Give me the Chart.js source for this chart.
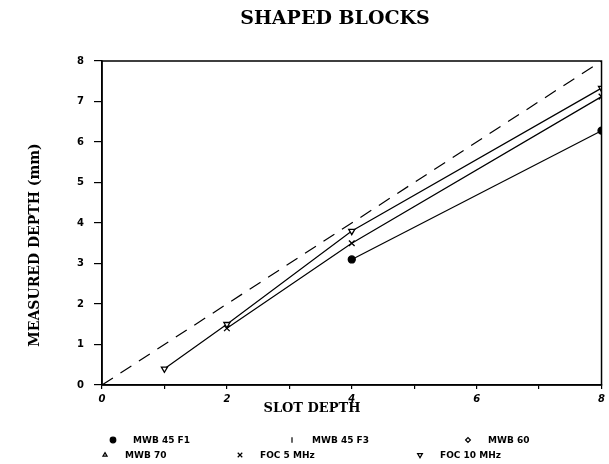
<!DOCTYPE html>
<html>
<head>
<meta charset="utf-8">
<script src="https://cdn.jsdelivr.net/npm/chart.js@4/dist/chart.umd.min.js"></script>
<style>
  body { margin: 0; background: #fff; }
  #wrap { width: 609px; height: 464px; position: relative; }
</style>
</head>
<body>
<div id="wrap"><canvas id="myChart" width="609" height="464"></canvas></div>
<script>
// values
var chartTitle = 'SHAPED BLOCKS';
var xTitle = 'SLOT DEPTH';
var yTitle = 'MEASURED DEPTH (mm)';
var seriesNames = ['MWB 45 F1', 'MWB 45 F3', 'MWB 60', 'MWB 70', 'FOC 5 MHz', 'FOC 10 MHz'];

var mwb45f1X = [4, 8];
var mwb45f1Y = [3.1, 6.28];
var foc5X = [2, 4, 8];
var foc5Y = [1.4, 3.5, 7.12];
var foc10X = [1, 2, 4, 8];
var foc10Y = [0.4, 1.5, 3.8, 7.33];
// dashed reference line (measured = slot)
var idealX = [0, 8];
var idealY = [0, 8];

function pts(xs, ys) {
  var out = [];
  for (var i = 0; i < xs.length; i++) out.push({x: xs[i], y: ys[i]});
  return out;
}

const data = {
  datasets: [
    { label: seriesNames[0], data: pts(mwb45f1X, mwb45f1Y), pointStyle: 'circle', pointRadius: 3.5, backgroundColor: '#000' },
    { label: seriesNames[1], data: [], pointStyle: 'line', rotation: 90, pointRadius: 3.5, backgroundColor: '#000' },
    { label: seriesNames[2], data: [], pointStyle: 'rectRot', pointRadius: 3, backgroundColor: '#fff' },
    { label: seriesNames[3], data: [], pointStyle: 'triangle', pointRadius: 3, backgroundColor: '#fff' },
    { label: seriesNames[4], data: pts(foc5X, foc5Y), pointStyle: 'crossRot', pointRadius: 4, backgroundColor: '#000' },
    { label: seriesNames[5], data: pts(foc10X, foc10Y), pointStyle: 'triangle', rotation: 180, pointRadius: 3.5, backgroundColor: '#fff' },
    { label: '', data: pts(idealX, idealY), borderDash: [13, 9], pointRadius: 0, backgroundColor: '#000' }
  ]
};
data.datasets.forEach(function(d) {
  d.showLine = true;
  d.borderColor = '#000';
  d.borderWidth = 1.2;
  d.pointBorderColor = '#000';
  d.pointBorderWidth = 1.3;
  d.pointBackgroundColor = d.backgroundColor;
  d.pointRotation = d.rotation || 0;
  d.tension = 0;
});

// legend item placement (two rows of three, as in the scan)
var legendMarkX = [113, 292, 468, 105, 240, 420];
var legendRowY = [440, 440, 440, 455, 455, 455];

const extras = {
  id: 'extras',
  afterDraw(chart) {
    const ctx = chart.ctx;
    const a = chart.chartArea;
    ctx.save();
    // frame
    ctx.strokeStyle = '#000';
    ctx.lineWidth = 1.5;
    ctx.strokeRect(a.left, a.top, a.right - a.left, a.bottom - a.top);
    ctx.fillStyle = '#000';
    // title
    ctx.font = 'bold 19px "DejaVu Serif"';
    ctx.textAlign = 'center';
    ctx.textBaseline = 'middle';
    ctx.fillText(chartTitle, 335, 19);
    // x title
    ctx.font = 'bold 13px "DejaVu Serif"';
    ctx.fillText(xTitle, 312, 409);
    // y title
    ctx.save();
    ctx.translate(35, 245);
    ctx.rotate(-Math.PI / 2);
    ctx.font = 'bold 14px "DejaVu Serif"';
    ctx.fillText(yTitle, 0, 0);
    ctx.restore();
    // legend
    ctx.font = 'bold 9px "DejaVu Sans"';
    ctx.textAlign = 'left';
    for (var i = 0; i < seriesNames.length; i++) {
      var ds = chart.data.datasets[i];
      var mx = legendMarkX[i], my = legendRowY[i];
      ctx.fillStyle = ds.pointBackgroundColor;
      ctx.strokeStyle = '#000';
      ctx.lineWidth = 1.2;
      Chart.helpers.drawPoint(ctx, {
        pointStyle: ds.pointStyle,
        rotation: ds.pointRotation,
        radius: ds.pointRadius * 0.8,
        borderWidth: 1.2
      }, mx, my);
      ctx.fillStyle = '#000';
      ctx.fillText(seriesNames[i], mx + 20, my + 1);
    }
    ctx.restore();
  }
};

Chart.defaults.font.family = '"DejaVu Sans"';
Chart.defaults.color = '#000';

const config = {
  type: 'scatter',
  data: data,
  plugins: [extras],
  options: {
    animation: false,
    responsive: false,
    layout: { padding: { top: 61, right: 4, left: 0, bottom: 0 } },
    plugins: { legend: { display: false }, tooltip: { enabled: false } },
    elements: { point: { hoverRadius: 4 } },
    scales: {
      x: {
        type: 'linear', min: 0, max: 8,
        afterFit(s) { s.height = 79; },
        border: { color: '#000', width: 1.5 },
        grid: { drawOnChartArea: false, color: '#000', tickLength: 4, lineWidth: 1.2 },
        ticks: {
          stepSize: 1, padding: 4, autoSkip: false, maxRotation: 0,
          font: { size: 10, weight: 'bold', style: 'italic' },
          callback: function(v) { return v % 2 === 0 ? v : ''; }
        }
      },
      y: {
        type: 'linear', min: 0, max: 8,
        afterFit(s) { s.width = 102; },
        border: { color: '#000', width: 1.5 },
        grid: { drawOnChartArea: false, color: '#000', tickLength: 8, lineWidth: 1.2 },
        ticks: {
          stepSize: 1, padding: 10,
          font: { size: 10, weight: 'bold' }
        }
      }
    }
  }
};

const myChart = new Chart(document.getElementById('myChart'), config);
</script>
</body>
</html>
